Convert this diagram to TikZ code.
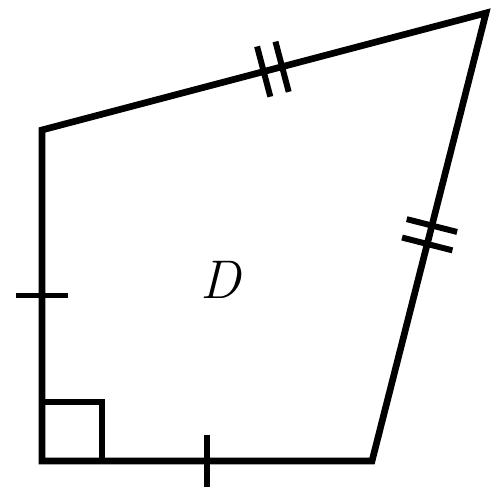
\documentclass[tikz,border=0pt]{standalone}
\usepackage{amsmath, amssymb}
\usepackage{tikz}
\usetikzlibrary{calc, positioning}

\begin{document}
\begin{tikzpicture}[x=0.02cm, y=-0.02cm,
        side/.style={draw, line width=3.8pt},
        tick/.style={draw, line width=3.4pt}
    ]
        \useasboundingbox (0,0) rectangle (490,492);
        \coordinate (bl) at (42,461);
        \coordinate (tl) at (42,130);
        \coordinate (tr) at (486,13);
        \coordinate (br) at (372,461);
        \draw[side] (bl) -- (tl) -- (tr) -- (br) -- cycle;
        % right angle
        \draw[tick] (42,402) -- (102,402) -- (102,461);
        % single ticks
        \coordinate (ml) at ($(bl)!0.5!(tl)$);
        \coordinate (mb) at ($(bl)!0.5!(br)$);
        \draw[tick] ($(ml)!0.52cm!90:(tl)$) -- ($(ml)!0.52cm!-90:(tl)$);
        \draw[tick] ($(mb)!0.52cm!90:(br)$) -- ($(mb)!0.52cm!-90:(br)$);
        % double ticks
        \coordinate (mt) at ($(tl)!0.52!(tr)$);
        \coordinate (t1) at ($(mt)!0.19cm!(tl)$);
        \coordinate (t2) at ($(mt)!0.19cm!(tr)$);
        \draw[tick] ($(t1)!0.52cm!90:(tr)$) -- ($(t1)!0.52cm!-90:(tr)$);
        \draw[tick] ($(t2)!0.52cm!90:(tr)$) -- ($(t2)!0.52cm!-90:(tr)$);
        \coordinate (mr) at ($(br)!0.505!(tr)$);
        \coordinate (r1) at ($(mr)!0.19cm!(br)$);
        \coordinate (r2) at ($(mr)!0.19cm!(tr)$);
        \draw[tick] ($(r1)!0.52cm!90:(tr)$) -- ($(r1)!0.52cm!-90:(tr)$);
        \draw[tick] ($(r2)!0.52cm!90:(tr)$) -- ($(r2)!0.52cm!-90:(tr)$);
        \node[font=\itshape\fontsize{31}{33}\selectfont] (lbl) at (221,280) {D};
    \end{tikzpicture}
\end{document}
